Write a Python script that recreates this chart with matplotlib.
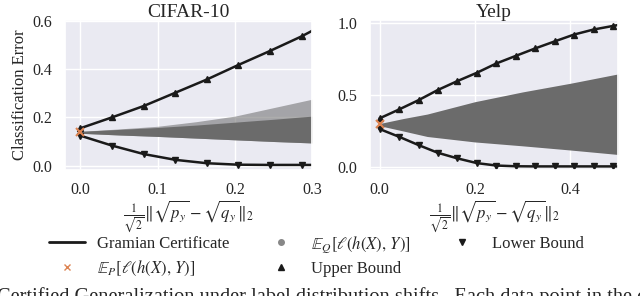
import numpy as np
import matplotlib
matplotlib.use('Agg')
import matplotlib.pyplot as plt
import seaborn as sns
from matplotlib.lines import Line2D

sns.set_theme(style='darkgrid')
plt.rcParams['font.family'] = ['Liberation Serif', 'DejaVu Serif']
plt.rcParams['mathtext.fontset'] = 'stix'

# CIFAR-10: certificate bounds
cifar_x = [0.0, 0.041, 0.082, 0.123, 0.164, 0.204, 0.245, 0.287, 0.3]
cifar_upper = [0.155, 0.200, 0.247, 0.302, 0.357, 0.416, 0.474, 0.536, 0.558]
cifar_lower = [0.124, 0.083, 0.048, 0.024, 0.010, 0.004, 0.003, 0.003, 0.003]
cifar_p_err = 0.138
# envelope of the E_Q scatter cloud
cifar_cloud_x = [0.0, 0.05, 0.1, 0.15, 0.2, 0.25, 0.3]
cifar_cloud_hi = [0.142, 0.150, 0.158, 0.168, 0.180, 0.192, 0.205]
cifar_cloud_lo = [0.134, 0.127, 0.121, 0.114, 0.107, 0.100, 0.094]
cifar_sparse_hi = [0.142, 0.152, 0.163, 0.182, 0.205, 0.240, 0.275]

# Yelp
yelp_x = [0.0, 0.041, 0.082, 0.122, 0.163, 0.204, 0.245, 0.286, 0.326,
          0.367, 0.408, 0.449, 0.49, 0.5]
yelp_upper = [0.336, 0.398, 0.463, 0.533, 0.595, 0.653, 0.718, 0.771, 0.822,
              0.871, 0.919, 0.954, 0.979, 0.985]
yelp_lower = [0.262, 0.208, 0.150, 0.097, 0.058, 0.025, 0.008, 0.003, 0.002,
              0.002, 0.002, 0.002, 0.002, 0.002]
yelp_p_err = 0.294
yelp_cloud_x = [0.0, 0.05, 0.1, 0.2, 0.3, 0.4, 0.5]
yelp_cloud_hi = [0.300, 0.335, 0.366, 0.452, 0.520, 0.580, 0.645]
yelp_cloud_lo = [0.285, 0.248, 0.210, 0.172, 0.145, 0.116, 0.085]

xlabel = r'$\frac{1}{\sqrt{2}}\Vert\sqrt{p_y}-\sqrt{q_y}\Vert_2$'
gray = '#6b6b6b'
orange = '#dd8452'

fig = plt.figure(figsize=(6.4, 2.96), dpi=100)
ax1 = fig.add_axes([65 / 640, 126 / 296, 247 / 640, 150 / 296])
ax2 = fig.add_axes([370 / 640, 126 / 296, 248 / 640, 150 / 296])


def draw(ax, x, upper, lower, p_err, cx, chi, clo, n_mark, sparse=None):
    if sparse is not None:
        ax.fill_between(cx, clo, sparse, color=gray, alpha=0.55, lw=0)
    ax.fill_between(cx, clo, chi, color=gray, lw=0)
    ax.plot(x, upper, color='k', lw=1.8, marker='^', ms=5,
            markevery=list(range(n_mark)))
    ax.plot(x, lower, color='k', lw=1.8, marker='v', ms=5,
            markevery=list(range(n_mark)))
    ax.plot([0.0], [p_err], ls='none', marker='x', color=orange, ms=6, mew=1.5)
    ax.set_xlabel(xlabel, fontsize=12, labelpad=0)
    ax.tick_params(labelsize=11.5, pad=3)


draw(ax1, cifar_x, cifar_upper, cifar_lower, cifar_p_err,
     cifar_cloud_x, cifar_cloud_hi, cifar_cloud_lo, 8, cifar_sparse_hi)
ax1.set_xlim(-0.02, 0.3)
ax1.set_ylim(-0.018, 0.603)
ax1.set_xticks([0.0, 0.1, 0.2, 0.3])
ax1.set_yticks([0.0, 0.2, 0.4, 0.6])
ax1.set_title('CIFAR-10', fontsize=14, pad=2)
ax1.set_ylabel('Classification Error', fontsize=12, labelpad=3)

draw(ax2, yelp_x, yelp_upper, yelp_lower, yelp_p_err,
     yelp_cloud_x, yelp_cloud_hi, yelp_cloud_lo, 13)
ax2.set_xlim(-0.02, 0.5)
ax2.set_ylim(-0.023, 1.02)
ax2.set_xticks([0.0, 0.2, 0.4])
ax2.set_yticks([0.0, 0.5, 1.0])
ax2.set_title('Yelp', fontsize=14, pad=2)

handles = [
    Line2D([], [], color='k', lw=2),
    Line2D([], [], ls='none', marker='x', color=orange, ms=4, mew=1),
    Line2D([], [], ls='none', marker='o', color='#888888', ms=4),
    Line2D([], [], ls='none', marker='^', color='k', ms=5),
    Line2D([], [], ls='none', marker='v', color='k', ms=5),
]
labels = ['Gramian Certificate',
          r'$\mathbb{E}_P[\ell(h(X),\,Y)]$',
          r'$\mathbb{E}_Q[\ell(h(X),\,Y)]$',
          'Upper Bound', 'Lower Bound']
fig.legend(handles, labels, ncol=3, loc='upper left',
           bbox_to_anchor=(47 / 640, 0.215), frameon=False, fontsize=12,
           handlelength=2.15, handletextpad=0.75, columnspacing=2.0,
           labelspacing=0.4, borderpad=0.1, borderaxespad=0.0)

fig.text(-0.005, -0.021,
         'Certified Generalization under label distribution shifts.  Each data '
         'point in the corresponding plot',
         fontsize=14.7, ha='left', va='baseline')

fig.savefig('out.png', dpi=100)
